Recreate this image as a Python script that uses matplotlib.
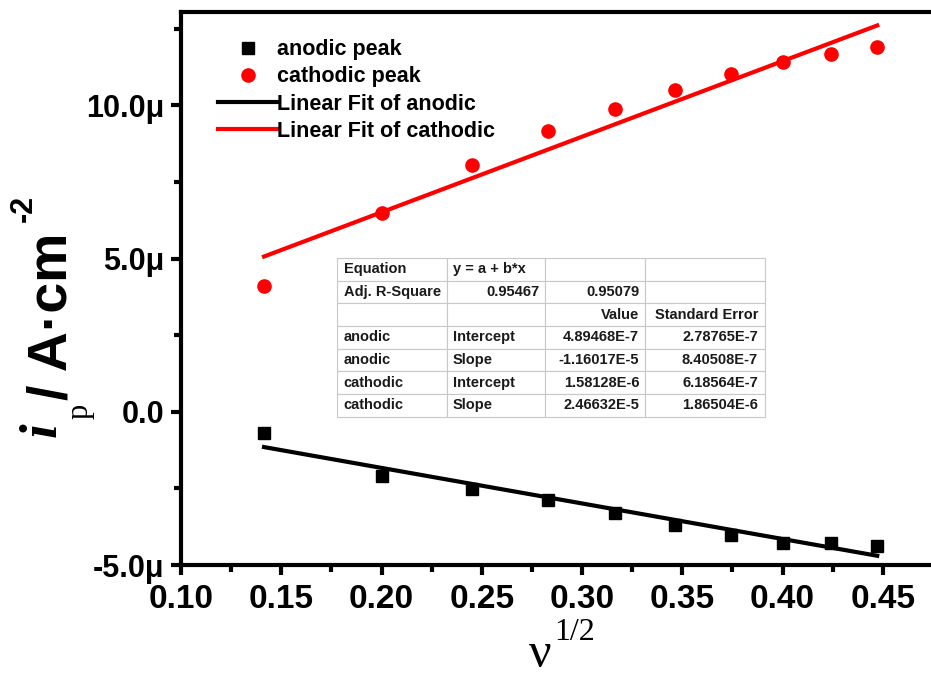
import numpy as np
import matplotlib
matplotlib.use("Agg")
from matplotlib import pyplot as plt

# sqrt of scan rate
nu_half = [0.1414, 0.2, 0.2449, 0.2828, 0.3162, 0.3464, 0.3742, 0.4, 0.4243, 0.4472]
anodic = [-0.69e-6, -2.09e-6, -2.52e-6, -2.88e-6, -3.30e-6, -3.69e-6, -4.02e-6, -4.28e-6, -4.28e-6, -4.38e-6]
cathodic = [4.12e-6, 6.50e-6, 8.07e-6, 9.15e-6, 9.90e-6, 10.52e-6, 11.01e-6, 11.41e-6, 11.67e-6, 11.90e-6]

# fit parameters (intercept, slope)
fit_anodic = (4.89468e-7, -1.16017e-5)
fit_cathodic = (1.58128e-6, 2.46632e-5)

x_ticks = [0.10, 0.15, 0.20, 0.25, 0.30, 0.35, 0.40, 0.45]
y_ticks = [-5e-6, 0, 5e-6, 10e-6]
y_ticklabels = ["-5.0μ", "0.0", "5.0μ", "10.0μ"]

table_rows = [
    ["Equation", "y = a + b*x", "", ""],
    ["Adj. R-Square", "0.95467", "0.95079", ""],
    ["", "", "Value", "Standard Error"],
    ["anodic", "Intercept", "4.89468E-7", "2.78765E-7"],
    ["anodic", "Slope", "-1.16017E-5", "8.40508E-7"],
    ["cathodic", "Intercept", "1.58128E-6", "6.18564E-7"],
    ["cathodic", "Slope", "2.46632E-5", "1.86504E-6"],
]

plt.rcParams['font.family'] = ['Liberation Sans', 'DejaVu Sans']
plt.rcParams['font.weight'] = 'bold'

W, H = 931, 677
fig = plt.figure(figsize=(W/100, H/100), dpi=100)
ax = fig.add_axes([181/W, 112/H, 762/W, 553/H])

x = np.array(nu_half)
ax.plot(x, anodic, 's', color='black', ms=8.5, label='anodic peak')
ax.plot(x, cathodic, 'o', color='red', ms=9.5, label='cathodic peak')
ax.plot(x, fit_anodic[0] + fit_anodic[1]*x, '-', color='black', lw=3, label='Linear Fit of anodic')
ax.plot(x, fit_cathodic[0] + fit_cathodic[1]*x, '-', color='red', lw=3, label='Linear Fit of cathodic')

ax.set_xlim(0.1, 0.48)
ax.set_ylim(-5e-6, 13.05e-6)
ax.set_xticks(x_ticks)
ax.set_xticklabels(["%.2f" % v for v in x_ticks])
ax.set_xticks(np.arange(0.125, 0.46, 0.05), minor=True)
ax.set_yticks(y_ticks)
ax.set_yticklabels(y_ticklabels)
ax.set_yticks([-2.5e-6, 2.5e-6, 7.5e-6, 12.5e-6], minor=True)

for s in ax.spines.values():
    s.set_linewidth(3)
ax.tick_params(which='major', direction='out', length=7, width=3)
ax.tick_params(which='minor', direction='out', length=5, width=3)
ax.tick_params(axis='x', labelsize=24, pad=7)
ax.tick_params(axis='y', labelsize=22, pad=5)

# y label built from pieces (pixel positions, origin top-left)
def ftext(px, py, s, **kw):
    fig.text(px/W, 1 - py/H, s, ha='center', va='center', **kw)

ftext(43, 430, "i", family='Liberation Serif', style='italic', weight='bold', fontsize=38, rotation=90)
ftext(80, 411, "p", family='Liberation Serif', weight='normal', fontsize=22, rotation=90)
ftext(53, 316, "/ A·cm", fontsize=40, rotation=90)
ftext(24, 208, "-2", fontsize=22, rotation=90)

# x label
ftext(540, 655, "ν", family='Liberation Serif', weight='normal', fontsize=36)
ftext(575, 633, "1/2", family='Liberation Serif', weight='normal', fontsize=23)

ax.legend(loc='upper left', frameon=False, fontsize=15.5, handlelength=2.75,
          handletextpad=0.0, labelspacing=0.29, borderaxespad=0, borderpad=0,
          bbox_to_anchor=(0.0486, 0.951))

tbl = ax.table(cellText=table_rows, bbox=[0.2047, 0.268, 0.562, 0.287],
               colWidths=[110, 98, 100, 120], cellLoc='left')
tbl.auto_set_font_size(False)
right_cells = {(1, 1), (1, 2), (2, 2), (2, 3)} | {(r, c) for r in range(3, 7) for c in (2, 3)}
for (r, c), cell in tbl.get_celld().items():
    cell.set_edgecolor('#c8c8c8')
    cell.set_linewidth(0.8)
    cell.set_facecolor('white')
    cell.PAD = 0.06
    t = cell.get_text()
    t.set_fontsize(10.5)
    t.set_fontweight('bold')
    t.set_color('#1a1a1a')
    if (r, c) in right_cells:
        t.set_horizontalalignment('right')
        cell._loc = 'right'
tbl.set_zorder(5)

fig.savefig('out.png', dpi=100)
